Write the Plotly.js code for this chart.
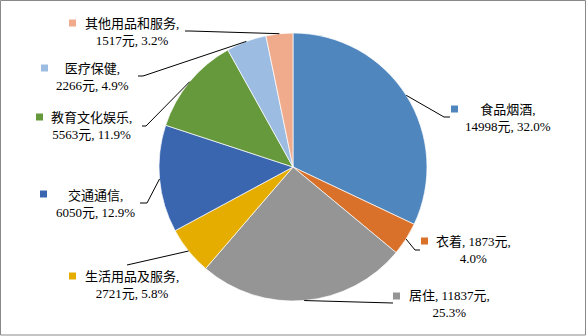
<!DOCTYPE html>
<html>
<head>
<meta charset="utf-8">
<script src="https://cdn.plot.ly/plotly-3.0.1.min.js"></script>
<style>html,body{margin:0;padding:0;background:#fff;}#chart{width:586px;height:336px;}</style>
</head>
<body>
<div id="chart"></div>
<script>
// ---- data ----
const categories = ['食品烟酒', '衣着', '居住', '生活用品及服务', '交通通信', '教育文化娱乐', '医疗保健', '其他用品和服务'];
const values = [14998, 1873, 11837, 2721, 6050, 5563, 2266, 1517];
const pctLabels = ['32.0%', '4.0%', '25.3%', '5.8%', '12.9%', '11.9%', '4.9%', '3.2%'];

// ---- style / layout ----
const colors = ['#4F86BE', '#D9712A', '#959595', '#E4AD00', '#3A66B0', '#65993C', '#9DBCE2', '#F0AB8D'];
const W = 586, H = 336;
const CX = 293, CY = 167, R = 134;
// label layout: text center x, line1 y, marker left x, elbow point, tail end point, break style
const labelCfg = [
  {tx: 508, ty: 118, mx: 451, my: 109, elbow: [444, 117], tail: [450, 117], brk: 'name'},
  {tx: 473, ty: 250, mx: 421, my: 241, elbow: [415, 250], tail: [420, 250], brk: 'value'},
  {tx: 449.5, ty: 304, mx: 393, my: 296, elbow: [393, 303], tail: [393, 303], brk: 'value'},
  {tx: 131.5, ty: 284.5, mx: 69, my: 276, elbow: [127, 265], tail: [127, 265], brk: 'name'},
  {tx: 95.5, ty: 203.5, mx: 40, my: 194, elbow: [147, 203], tail: [140, 203], brk: 'name'},
  {tx: 91.5, ty: 125.5, mx: 36, my: 117, elbow: [146, 126], tail: [142, 126], brk: 'name'},
  {tx: 92, ty: 77, mx: 41, my: 68, elbow: [143, 76], tail: [138, 76], brk: 'name'},
  {tx: 132, ty: 31.5, mx: 69, my: 23, elbow: [190, 31], tail: [185, 31], brk: 'name'}
];

const px = x => x / W;
const py = y => 1 - y / H;
const FONT = 'Liberation Serif, "Noto Sans CJK SC", serif';

const total = values.reduce((a, b) => a + b, 0);
let cum = 0;
const shapes = [];
const annotations = [];
values.forEach((v, i) => {
  const mid = (cum + v / 2) / total;
  cum += v;
  const ang = mid * 2 * Math.PI;
  const ex = CX + R * Math.sin(ang), ey = CY - R * Math.cos(ang);
  const c = labelCfg[i];
  shapes.push({
    type: 'path', xref: 'paper', yref: 'paper',
    path: `M${px(ex)},${py(ey)} L${px(c.elbow[0])},${py(c.elbow[1])} L${px(c.tail[0])},${py(c.tail[1])}`,
    line: {color: '#000', width: 1}
  });
  shapes.push({
    type: 'rect', xref: 'paper', yref: 'paper',
    x0: px(c.mx), x1: px(c.mx + 7), y0: py(c.my - 3.5), y1: py(c.my + 3.5),
    fillcolor: colors[i], line: {width: 0}
  });
  const amt = values[i] + '元';
  const txt = c.brk === 'name'
    ? `${categories[i]},<br>${amt}, ${pctLabels[i]}`
    : `${categories[i]}, ${amt},<br>${pctLabels[i]}`;
  annotations.push({
    xref: 'paper', yref: 'paper', x: px(c.tx), y: py(c.ty),
    xanchor: 'center', yanchor: 'middle', align: 'center',
    showarrow: false, text: txt,
    font: {family: FONT, size: 13, color: '#000'}
  });
});

// frame
shapes.push({
  type: 'rect', xref: 'paper', yref: 'paper',
  x0: px(0.5), x1: px(585.5), y0: py(335), y1: py(0.5),
  line: {color: '#898989', width: 1}, fillcolor: 'rgba(0,0,0,0)'
});

const trace = {
  type: 'pie',
  labels: categories,
  values: values,
  sort: false,
  direction: 'clockwise',
  rotation: 0,
  textinfo: 'none',
  hoverinfo: 'skip',
  marker: {colors: colors, line: {color: '#ffffff', width: 0.7}},
  domain: {x: [px(CX - R), px(CX + R)], y: [py(CY + R), py(CY - R)]},
  showlegend: false
};

Plotly.newPlot('chart', [trace], {
  width: W, height: H,
  margin: {l: 0, r: 0, t: 0, b: 0},
  paper_bgcolor: '#fff',
  showlegend: false,
  shapes: shapes,
  annotations: annotations
}, {staticPlot: true});
</script>
</body>
</html>
